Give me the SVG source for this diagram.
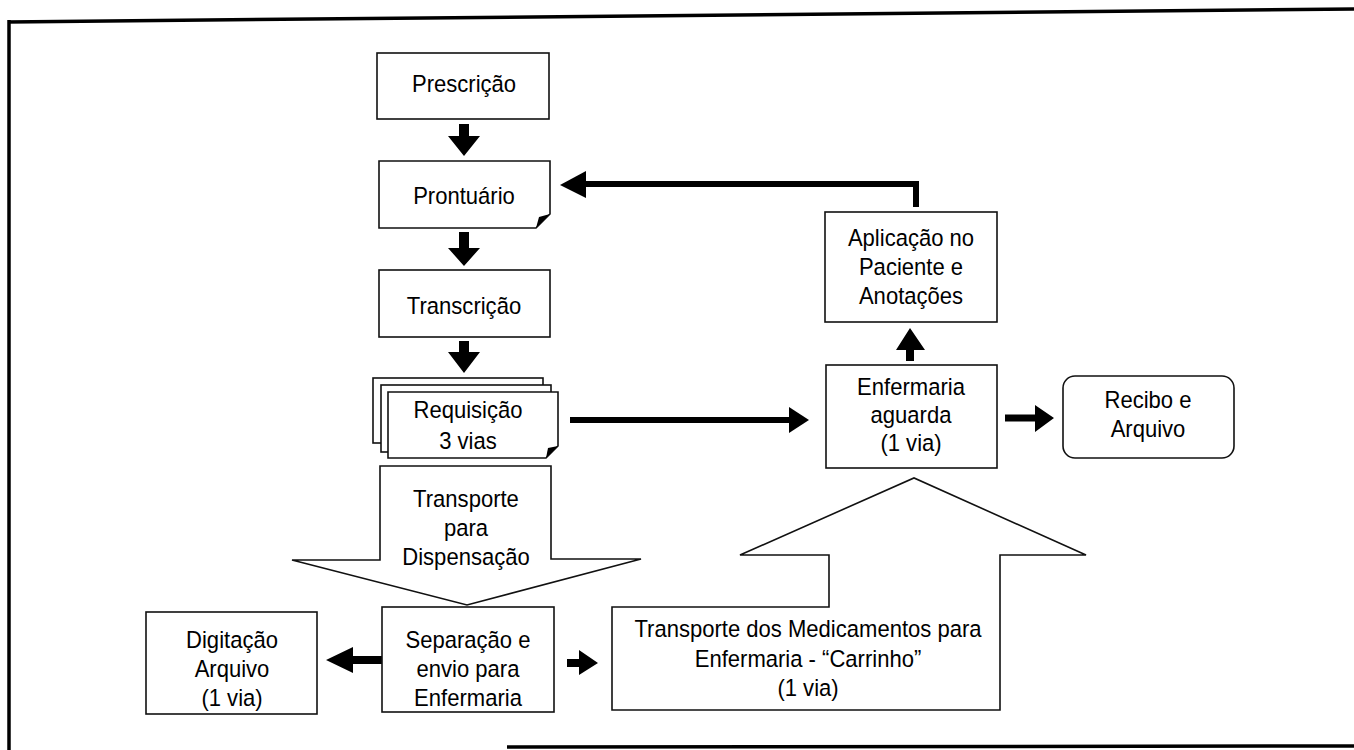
<svg xmlns="http://www.w3.org/2000/svg" width="1354" height="750" viewBox="0 0 1354 750">
<style>
.box{fill:#fff;stroke:#111;stroke-width:1.6}
.t{font-family:"Liberation Sans",Arial,sans-serif;font-size:24.5px;text-anchor:middle;fill:#000}
.arr{fill:#000}
.ln{fill:none;stroke:#000;stroke-width:6}
.frame{fill:none;stroke:#000;stroke-width:3.5}
</style>
<rect width="1354" height="750" fill="#fff"/>
<g id="frame">
<line class="frame" x1="8" y1="22" x2="1354" y2="9"/>
<line class="frame" x1="9" y1="20" x2="9" y2="750"/>
<line class="frame" x1="507" y1="747" x2="1354" y2="746"/>
</g>
<g id="connectors">
<polygon class="arr" points="459,124 469,124 469,136 480,136 464,156 448,136 459,136"/>
<polygon class="arr" points="459,232 469,232 469,248 480,248 464,266 448,248 459,248"/>
<polygon class="arr" points="459,341 469,341 469,352 480,352 464,373 448,352 459,352"/>
<polyline class="ln" points="916,207 916,184 584,184"/>
<polygon class="arr" points="586,171 586,198 560,185"/>
<line class="ln" x1="570" y1="420" x2="791" y2="420"/>
<polygon class="arr" points="789,407 789,433 809,420"/>
<polygon class="arr" points="1005,414.5 1035,414.5 1035,405 1054,418 1035,432 1035,421.5 1005,421.5"/>
<polygon class="arr" points="906,361 914,361 914,350 925,350 910,328 896,350 906,350"/>
<polygon class="arr" points="382,656 353,656 353,647 326,660 353,673 353,664 382,664"/>
<polygon class="arr" points="567,659 579,659 579,650 598,663 579,675 579,667 567,667"/>
</g>
<g id="prescricao">
<rect class="box" x="377" y="53" width="172" height="66"/>
<text class="t" transform="translate(464,92) scale(0.9,1)">Prescrição</text>
</g>
<g id="prontuario">
<path class="box" d="M379,161 H550 V214 L536,228 H379 Z"/>
<polygon class="arr" points="550,214 536,228 539,217"/>
<text class="t" transform="translate(464,204) scale(0.9,1)">Prontuário</text>
</g>
<g id="transcricao">
<rect class="box" x="379" y="270" width="171" height="67"/>
<text class="t" transform="translate(464,314) scale(0.9,1)">Transcrição</text>
</g>
<g id="requisicao">
<rect class="box" x="373" y="378" width="170" height="65"/>
<rect class="box" x="381" y="385" width="170" height="67"/>
<path class="box" d="M388,392 H558 V446 L546,458 H388 Z"/>
<polygon class="arr" points="558,446 546,458 548,448"/>
<text class="t" transform="translate(468,418) scale(0.9,1)">Requisição</text>
<text class="t" transform="translate(468,449) scale(0.9,1)">3 vias</text>
</g>
<g id="transporte-dispensacao">
<polygon class="box" points="380,466 551,466 551,559 641,559 467,605 292,560 380,560"/>
<text class="t" transform="translate(466,507) scale(0.9,1)">Transporte</text>
<text class="t" transform="translate(466,536) scale(0.9,1)">para</text>
<text class="t" transform="translate(466,565) scale(0.9,1)">Dispensação</text>
</g>
<g id="separacao">
<rect class="box" x="382" y="607" width="172" height="105"/>
<text class="t" transform="translate(468,648) scale(0.9,1)">Separação e</text>
<text class="t" transform="translate(468,677) scale(0.9,1)">envio para</text>
<text class="t" transform="translate(468,706) scale(0.9,1)">Enfermaria</text>
</g>
<g id="digitacao">
<rect class="box" x="146" y="612" width="171" height="102"/>
<text class="t" transform="translate(232,648) scale(0.9,1)">Digitação</text>
<text class="t" transform="translate(232,677) scale(0.9,1)">Arquivo</text>
<text class="t" transform="translate(232,706) scale(0.9,1)">(1 via)</text>
</g>
<g id="transporte-medicamentos">
<polygon class="box" points="612,607 829,607 829,555 740,555 914,478 1086,555 1000,555 1000,710 612,710"/>
<text class="t" transform="translate(808,637) scale(0.9,1)">Transporte dos Medicamentos para</text>
<text class="t" transform="translate(808,667) scale(0.9,1)">Enfermaria - “Carrinho”</text>
<text class="t" transform="translate(808,696) scale(0.9,1)">(1 via)</text>
</g>
<g id="enfermaria">
<rect class="box" x="826" y="365" width="171" height="103"/>
<text class="t" transform="translate(911,395) scale(0.9,1)">Enfermaria</text>
<text class="t" transform="translate(911,423) scale(0.9,1)">aguarda</text>
<text class="t" transform="translate(911,451) scale(0.9,1)">(1 via)</text>
</g>
<g id="aplicacao">
<rect class="box" x="825" y="212" width="172" height="110"/>
<text class="t" transform="translate(911,246) scale(0.9,1)">Aplicação no</text>
<text class="t" transform="translate(911,275) scale(0.9,1)">Paciente e</text>
<text class="t" transform="translate(911,304) scale(0.9,1)">Anotações</text>
</g>
<g id="recibo">
<rect class="box" x="1063" y="376" width="171" height="82" rx="12"/>
<text class="t" transform="translate(1148,408) scale(0.9,1)">Recibo e</text>
<text class="t" transform="translate(1148,437) scale(0.9,1)">Arquivo</text>
</g>
</svg>
